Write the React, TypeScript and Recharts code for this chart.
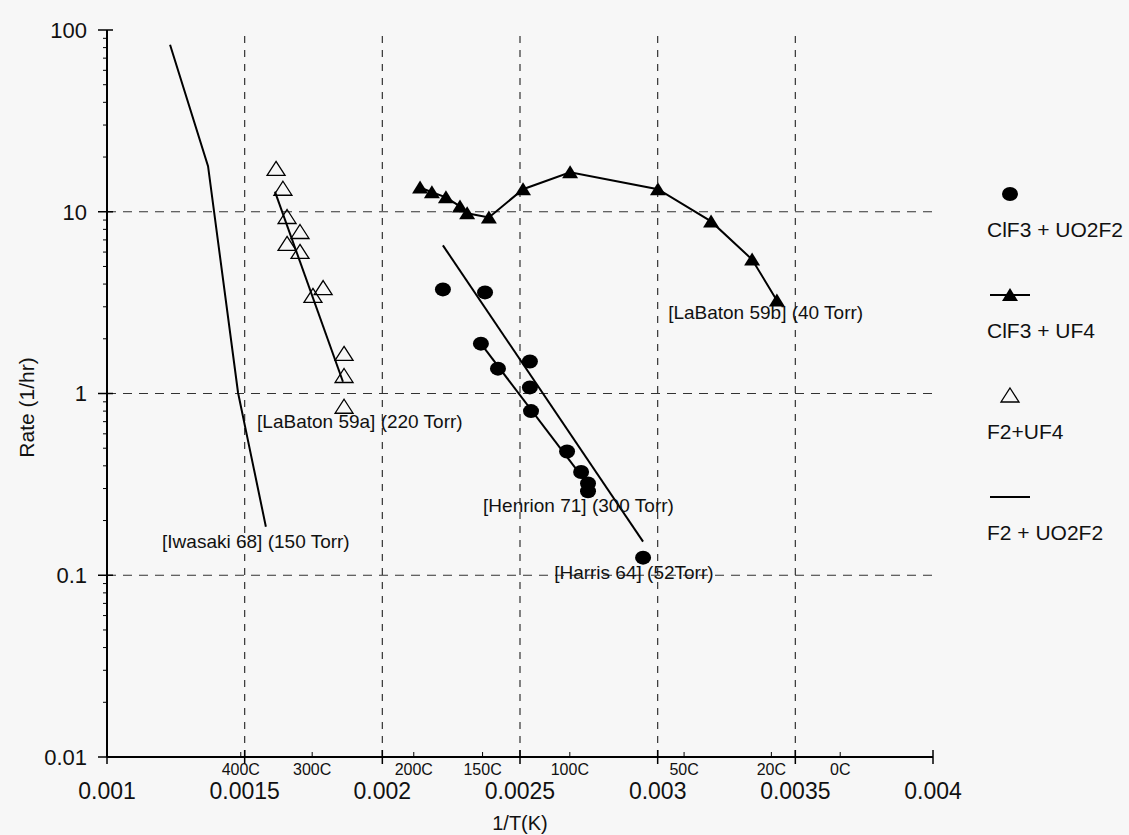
import React from 'react';
import {
  ScatterChart,
  Scatter,
  XAxis,
  YAxis,
  ReferenceLine,
  ReferenceDot,
  Legend,
} from 'recharts';

const FONT = 'Arial, "Liberation Sans", Helvetica, sans-serif';
const NARROW = '"Liberation Sans Narrow", "Arial Narrow", Arial, "Liberation Sans", sans-serif';

// x = 1/T (1/K), y = rate (1/hr)
const clf3Uo2f2X = [0.00222, 0.002373, 0.002358, 0.00242, 0.002536, 0.002536, 0.00254, 0.002671, 0.002722, 0.002747, 0.002747, 0.002947];
const clf3Uo2f2Y = [3.74, 3.6, 1.88, 1.37, 1.5, 1.08, 0.8, 0.48, 0.37, 0.32, 0.29, 0.125];

const clf3Uf4X = [0.002137, 0.00218, 0.002231, 0.002282, 0.002308, 0.002387, 0.002511, 0.002682, 0.003001, 0.003194, 0.003343, 0.003433];
const clf3Uf4Y = [13.6, 12.8, 12.0, 10.7, 9.8, 9.3, 13.3, 16.5, 13.3, 8.85, 5.46, 3.25];

const f2Uf4X = [0.001614, 0.001639, 0.001654, 0.001701, 0.001654, 0.001701, 0.001785, 0.001748, 0.001861, 0.001861, 0.001861];
const f2Uf4Y = [17.1, 13.3, 9.3, 7.69, 6.61, 5.97, 3.78, 3.42, 1.64, 1.24, 0.84];

const f2Uo2f2X = [0.001229, 0.001367, 0.001476, 0.001577];
const f2Uo2f2Y = [83, 17.8, 1.01, 0.185];

// fitted lines drawn through the data sets
const fit59aX = [0.00161, 0.001857];
const fit59aY = [12.9, 1.16];
const henrionFitX = [0.002358, 0.002747];
const henrionFitY = [1.88, 0.315];
const harrisFitX = [0.00222, 0.002947];
const harrisFitY = [6.53, 0.153];

const seriesNames = ['ClF3 + UO2F2', 'ClF3 + UF4', 'F2+UF4', 'F2 + UO2F2'];

const xTicks = [0.001, 0.0015, 0.002, 0.0025, 0.003, 0.0035, 0.004];
const xTickLabels = ['0.001', '0.0015', '0.002', '0.0025', '0.003', '0.0035', '0.004'];
const tempC = [400, 300, 200, 150, 100, 50, 20, 0];
const tempLabels = ['400C', '300C', '200C', '150C', '100C', '50C', '20C', '0C'];
const yTicks = [0.01, 0.1, 1, 10, 100];
const yTickLabels = ['0.01', '0.1', '1', '10', '100'];

const tempTicks = tempC.map((c) => 1 / (c + 273));
const yMinor: number[] = [];
[0.01, 0.1, 1, 10].forEach((d) => {
  for (let k = 2; k <= 9; k++) yMinor.push(d * k);
});

const pts = (xs: number[], ys: number[]) => xs.map((x, i) => ({ x, y: ys[i] }));

const dot = (p: any) => <ellipse cx={p.cx} cy={p.cy} rx={8} ry={7} fill="#000" />;
const filledTri = (p: any) => (
  <path d={`M${p.cx},${p.cy - 7} L${p.cx + 8},${p.cy + 6} L${p.cx - 8},${p.cy + 6} Z`} fill="#000" />
);
const openTri = (p: any) => (
  <path
    d={`M${p.cx},${p.cy - 8} L${p.cx + 9},${p.cy + 6} L${p.cx - 9},${p.cy + 6} Z`}
    fill="none"
    stroke="#000"
    strokeWidth={1.3}
  />
);
const noMark = () => <g />;

const XTick = (props: any) => {
  const { x, y, payload } = props;
  const v = payload.value;
  const mi = xTicks.indexOf(v);
  if (mi >= 0) {
    return (
      <g>
        <line x1={x} x2={x} y1={y - 7} y2={y + 7} stroke="#000" strokeWidth={1.5} />
        <text x={x} y={y + 42} textAnchor="middle" fontSize={23} fontFamily={FONT} fill="#111">
          {xTickLabels[mi]}
        </text>
      </g>
    );
  }
  const ti = tempTicks.indexOf(v);
  return (
    <g>
      <line x1={x} x2={x} y1={y - 5} y2={y} stroke="#000" strokeWidth={1} />
      <text x={x} y={y + 18} textAnchor="middle" fontSize={16} fontFamily={NARROW} fill="#111">
        {tempLabels[ti]}
      </text>
    </g>
  );
};

const YTick = (props: any) => {
  const { x, y, payload } = props;
  const mi = yTicks.indexOf(payload.value);
  if (mi >= 0) {
    return (
      <g>
        <line x1={x - 9} x2={x + 6} y1={y} y2={y} stroke="#000" strokeWidth={1.5} />
        <text x={x - 20} y={y} dy="0.36em" textAnchor="end" fontSize={22} fontFamily={FONT} fill="#111">
          {yTickLabels[mi]}
        </text>
      </g>
    );
  }
  return <line x1={x - 4} x2={x} y1={y} y2={y} stroke="#000" strokeWidth={1} />;
};

const YLabel = (props: any) => {
  const vb = props.viewBox;
  const cx = 26;
  const cy = vb.y + vb.height / 2 + 14;
  return (
    <text
      x={cx}
      y={cy}
      transform={`rotate(-90, ${cx}, ${cy})`}
      textAnchor="middle"
      dominantBaseline="central"
      fontSize={21}
      fontFamily={FONT}
      fill="#111"
    >
      Rate (1/hr)
    </text>
  );
};

const legendIcons = [
  <ellipse cx={25} cy={10} rx={8} ry={7} fill="#000" />,
  <g>
    <line x1={5} x2={45} y1={10} y2={10} stroke="#000" strokeWidth={2} />
    <path d="M25,3 L33,16 L17,16 Z" fill="#000" />
  </g>,
  <path d="M25,2 L34,16 L16,16 Z" fill="none" stroke="#000" strokeWidth={1.3} />,
  <line x1={5} x2={45} y1={10} y2={10} stroke="#000" strokeWidth={2} />,
];

const renderLegend = () => (
  <div style={{ position: 'relative', width: 154, height: 440, fontFamily: FONT }}>
    {seriesNames.map((name, i) => (
      <div key={name} style={{ position: 'absolute', left: 0, top: i * 101 }}>
        <svg width={50} height={20} style={{ display: 'block', marginLeft: 10 }}>
          {legendIcons[i]}
        </svg>
        <div style={{ marginTop: 14, marginLeft: 12, fontSize: 21, lineHeight: '24px', color: '#111', whiteSpace: 'nowrap' }}>
          {name}
        </div>
      </div>
    ))}
  </div>
);

const note = (value: string) => ({
  value,
  position: 'right' as const,
  offset: 0,
  fontSize: 19,
  fontFamily: FONT,
  fill: '#111',
});

export default function App() {
  return (
    <div style={{ position: 'absolute', left: 0, top: 0, width: 1129, height: 835, background: '#f7f7f7' }}>
      <ScatterChart width={1129} height={835} margin={{ top: 30, right: 196, bottom: 0, left: 0 }}>
        <XAxis
          type="number"
          dataKey="x"
          domain={[0.001, 0.004]}
          ticks={[...xTicks, ...tempTicks]}
          interval={0}
          tick={<XTick />}
          tickLine={false}
          tickSize={0}
          tickMargin={0}
          height={78}
          axisLine={{ stroke: '#000', strokeWidth: 2 }}
          allowDataOverflow
          label={{ value: '1/T(K)', position: 'insideBottom', offset: 5, fontSize: 20, fontFamily: FONT, fill: '#111' }}
        />
        <YAxis
          type="number"
          dataKey="y"
          scale="log"
          domain={[0.01, 100]}
          ticks={[...yTicks, ...yMinor]}
          interval={0}
          tick={<YTick />}
          tickLine={false}
          tickSize={0}
          tickMargin={0}
          width={107}
          axisLine={{ stroke: '#000', strokeWidth: 2 }}
          allowDataOverflow
          label={<YLabel />}
        />
        {xTicks.slice(1, -1).map((v) => (
          <ReferenceLine key={`vx${v}`} x={v} stroke="#333" strokeWidth={1.2} strokeDasharray="7 7" />
        ))}
        {yTicks.slice(1, -1).map((v) => (
          <ReferenceLine key={`hy${v}`} y={v} stroke="#333" strokeWidth={1.2} strokeDasharray="9 7" />
        ))}

        <Scatter data={pts(f2Uo2f2X, f2Uo2f2Y)} shape={noMark} line={{ stroke: '#000', strokeWidth: 2 }} isAnimationActive={false} legendType="none" />
        <Scatter data={pts(fit59aX, fit59aY)} shape={noMark} line={{ stroke: '#000', strokeWidth: 2 }} isAnimationActive={false} legendType="none" />
        <Scatter data={pts(henrionFitX, henrionFitY)} shape={noMark} line={{ stroke: '#000', strokeWidth: 2 }} isAnimationActive={false} legendType="none" />
        <Scatter data={pts(harrisFitX, harrisFitY)} shape={noMark} line={{ stroke: '#000', strokeWidth: 2 }} isAnimationActive={false} legendType="none" />
        <Scatter data={pts(clf3Uf4X, clf3Uf4Y)} shape={filledTri} line={{ stroke: '#000', strokeWidth: 2 }} isAnimationActive={false} />
        <Scatter data={pts(f2Uf4X, f2Uf4Y)} shape={openTri} isAnimationActive={false} />
        <Scatter data={pts(clf3Uo2f2X, clf3Uo2f2Y)} shape={dot} isAnimationActive={false} />

        <ReferenceDot x={0.001545} y={0.7} r={0} ifOverflow="visible" label={note('[LaBaton 59a] (220 Torr)')} />
        <ReferenceDot x={0.0012} y={0.153} r={0} ifOverflow="visible" label={note('[Iwasaki 68] (150 Torr)')} />
        <ReferenceDot x={0.003038} y={2.79} r={0} ifOverflow="visible" label={note('[LaBaton 59b] (40 Torr)')} />
        <ReferenceDot x={0.002366} y={0.242} r={0} ifOverflow="visible" label={note('[Henrion 71] (300 Torr)')} />
        <ReferenceDot x={0.002624} y={0.1035} r={0} ifOverflow="visible" label={note('[Harris 64] (52Torr)')} />

        <Legend
          layout="vertical"
          align="center"
          verticalAlign="middle"
          wrapperStyle={{ left: 975, top: 184, width: 154 }}
          content={renderLegend}
        />
      </ScatterChart>
    </div>
  );
}
